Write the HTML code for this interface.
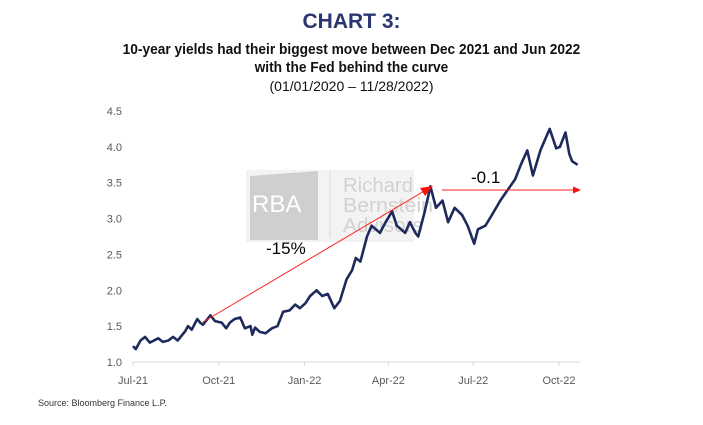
<!DOCTYPE html>
<html><head><meta charset="utf-8"><style>
body{margin:0;width:703px;height:425px;background:#fff;overflow:hidden;font-family:"Liberation Sans",sans-serif}
.t{position:absolute;left:0;width:703px;text-align:center}
</style></head><body>
<div class="t" style="top:10px;font-size:21px;font-weight:bold;color:#2b3570">CHART 3:</div>
<div class="t" style="top:41px;font-size:15px;font-weight:bold;line-height:18px;color:#111;transform:scaleX(0.915);transform-origin:351px 0">10-year yields had their biggest move between Dec 2021 and Jun 2022<br>with the Fed behind the curve</div>
<div class="t" style="top:78px;font-size:14px;color:#111">(01/01/2020 – 11/28/2022)</div>
<div style="position:absolute;left:38px;top:398px;font-size:9px;color:#333">Source: Bloomberg Finance L.P.</div>
<svg id="c" width="703" height="425" style="position:absolute;left:0;top:0"></svg>
<script>
const days=[0,3,8,13,18,27,32,38,43,48,56,59,63,69,72,75,83,88,95,100,104,109,115,120,126,128,131,136,142,149,155,161,168,174,179,185,190,197,203,209,216,222,229,235,239,244,251,256,265,271,278,283,292,297,303,306,313,319,325,332,338,345,353,359,366,370,378,385,394,402,410,416,423,429,437,442,447,454,458,464,468,471,477];
const yields=[1.22,1.18,1.30,1.35,1.27,1.33,1.28,1.30,1.35,1.30,1.43,1.50,1.45,1.60,1.55,1.52,1.65,1.57,1.55,1.47,1.55,1.60,1.62,1.47,1.50,1.38,1.48,1.42,1.40,1.47,1.50,1.70,1.72,1.80,1.75,1.82,1.92,2.00,1.92,1.95,1.75,1.85,2.15,2.28,2.45,2.40,2.75,2.90,2.80,2.95,3.10,2.90,2.80,2.95,2.80,2.75,3.10,3.45,3.15,3.25,2.95,3.15,3.05,2.90,2.65,2.85,2.90,3.05,3.25,3.40,3.55,3.75,3.95,3.60,3.95,4.10,4.25,3.98,4.00,4.20,3.90,3.80,3.75];
const yTicks=[1.0,1.5,2.0,2.5,3.0,3.5,4.0,4.5];
const xTickLabels=["Jul-21","Oct-21","Jan-22","Apr-22","Jul-22","Oct-22"];
const xTickDays=[0,92,184,274,365,457];
const NS="http://www.w3.org/2000/svg";
const svg=document.getElementById('c');
const X=d=>133+d*(559-133)/457;
const Y=v=>362-(v-1)*(362-111)/3.5;
function mk(t,a,p){const e=document.createElementNS(NS,t);for(const k in a)e.setAttribute(k,a[k]);(p||svg).appendChild(e);return e;}
const wm=mk('g',{});


mk('rect',{x:246,y:170,width:168,height:72,fill:'#f3f3f3'},wm);
mk('polygon',{points:'250,176 318,171 318,240 250,240',fill:'#cfcfcf'},wm);
const rb=mk('text',{x:252,y:212,'font-size':24,fill:'#fff','font-family':'Liberation Sans'},wm);rb.textContent='RBA';
mk('line',{x1:330,y1:171,x2:330,y2:238,stroke:'#d8d8d8'},wm);
['Richard','Bernstein','Advisors'].forEach((s,i)=>{const t=mk('text',{x:343,y:192+i*20,'font-size':20,fill:'#d2d2d2','font-family':'Liberation Sans',textLength:s.length*10,lengthAdjust:'spacingAndGlyphs'},wm);t.textContent=s;});
const ax=mk('line',{x1:133,y1:362,x2:580,y2:362,stroke:'#d9d9d9'});


yTicks.forEach(v=>{const t=mk('text',{x:122,y:Y(v)+4,'font-size':11,fill:'#595959','text-anchor':'end'});t.textContent=v.toFixed(1);

});
xTickLabels.forEach((s,i)=>{const x=X(xTickDays[i]);mk('line',{x1:x,y1:362,x2:x,y2:366,stroke:'#d9d9d9'});
const t=mk('text',{x:x,y:384,'font-size':11,fill:'#595959','text-anchor':'middle'});t.textContent=s;

});
const line=mk('path',{d:days.map((d,i)=>(i?'L':'M')+X(d).toFixed(1)+','+Y(yields[i]).toFixed(1)).join(''),fill:'none',stroke:'#1f2a5c','stroke-width':2.6,'stroke-linejoin':'round'});


const a1=mk('line',{x1:203,y1:322,x2:426,y2:190,stroke:'#ff2020','stroke-width':1});


mk('polygon',{points:'433,186 420,188 425,196',fill:'#ff1010'});
const a2=mk('line',{x1:442,y1:190,x2:575,y2:190,stroke:'#ff2020','stroke-width':1});


mk('polygon',{points:'581,190 573,186.5 573,193.5',fill:'#ff1010'});
const l1=mk('text',{x:266,y:254,'font-size':17,fill:'#000'});l1.textContent='-15%';


const l2=mk('text',{x:471,y:183,'font-size':17,fill:'#000'});l2.textContent='-0.1';


</script>
</body></html>
